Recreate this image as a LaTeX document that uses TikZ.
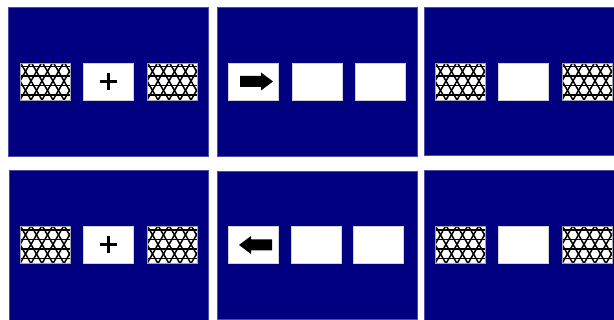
\documentclass[tikz,border=0pt]{standalone}
\usetikzlibrary{positioning}
\definecolor{screenblue}{RGB}{0,0,128}

\begin{document}
\begin{tikzpicture}[x=1pt,y=-1pt,
    screen/.style={fill=screenblue, draw=screenblue!70!white, line width=0.6pt},
    cell/.style={fill=white, draw=gray!35, line width=0.6pt, inner sep=0pt,
      minimum width=50pt, minimum height=37pt},
    mesh/.style={cell, draw=gray!70, path picture={
        \foreach \k in {-5,...,9} {
          \draw[black, line width=1.5pt] ([xshift=\k*11pt]path picture bounding box.south west) -- ++(60:60pt);
          \draw[black, line width=1.5pt] ([xshift=\k*11pt]path picture bounding box.south west) -- ++(120:60pt);
        }
        \foreach \j in {0,...,4}
          \draw[black, line width=1.5pt] ([yshift=4.76pt+\j*9.53pt]path picture bounding box.south west) -- ++(60pt,0pt);
      }}]
  \useasboundingbox (0,0) rectangle (614,320);
  % the six screens
  \draw[screen] (8,7) rectangle (208,156);
  \draw[screen] (217,7) rectangle (417,156);
  \draw[screen] (424,7) rectangle (614,155);
  \draw[screen] (9,170) rectangle (208,320);
  \draw[screen] (217,171) rectangle (417,319);
  \draw[screen] (424,170) rectangle (614,320);

  % top row
  \node[mesh] (a1) at (45,81.5) {};
  \node[cell] (a2) at (108,81.5) {};
  \node[mesh] (a3) at (172,81.5) {};
  \node[cell] (b1) at (253,81.5) {};
  \node[cell] (b2) at (317,81.5) {};
  \node[cell] (b3) at (380,81.5) {};
  \node[mesh] (c1) at (460,81.5) {};
  \node[cell] (c2) at (523,81.5) {};
  \node[mesh] (c3) at (587,81.5) {};

  % bottom row
  \node[mesh] (d1) at (45,245) {};
  \node[cell] (d2) at (108,245) {};
  \node[mesh] (d3) at (172,245) {};
  \node[cell] (e1) at (253,245) {};
  \node[cell] (e2) at (316,245) {};
  \node[cell] (e3) at (378.5,245) {};
  \node[mesh] (f1) at (460,245) {};
  \node[cell] (f2) at (523,245) {};
  \node[mesh] (f3) at (587,245) {};

  % fixation crosses
  \foreach \c in {a2,d2} {
    \draw[line width=3pt] (\c.center) ++(-8.5,0) -- ++(17,0);
    \draw[line width=3pt] (\c.center) ++(0,-8.5) -- ++(0,17);
  }

  % cue arrows
  \fill (b1.center) ++(-13,-5.5) -- ++(21,0) -- ++(0,-3.5) -- ++(12,9)
    -- ++(-12,9) -- ++(0,-3.5) -- ++(-21,0) -- cycle;
  \fill (e1.center) ++(19,-5.5) -- ++(-21,0) -- ++(0,-3.5) -- ++(-12,9)
    -- ++(12,9) -- ++(0,-3.5) -- ++(21,0) -- cycle;
\end{tikzpicture}
\end{document}
